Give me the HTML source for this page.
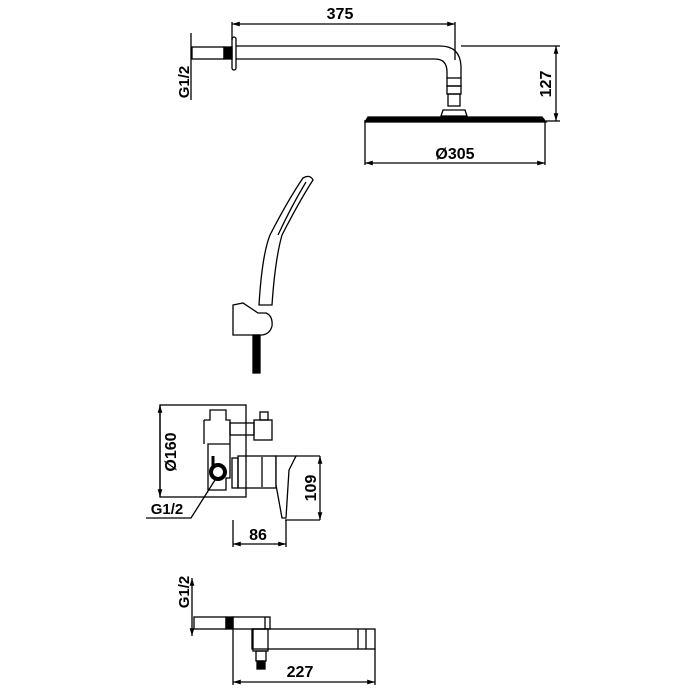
<!DOCTYPE html>
<html><head><style>body{margin:0;background:#fff}svg{display:block}</style></head><body>
<svg width="700" height="700" viewBox="0 0 700 700" xmlns="http://www.w3.org/2000/svg" font-family="Liberation Sans, sans-serif" font-weight="bold" fill="none" stroke="#000" stroke-width="1.3">
<defs><marker id="a" viewBox="0 0 10 10" refX="10" refY="5" markerWidth="6" markerHeight="6" orient="auto-start-reverse"><path d="M0,2L10,5L0,8z" fill="#000" stroke="none"/></marker></defs>
<!-- top: shower arm -->
<line x1="232" y1="24" x2="455" y2="24" marker-start="url(#a)" marker-end="url(#a)"/>
<line x1="232" y1="22" x2="232" y2="40"/><line x1="455" y1="22" x2="455" y2="60"/>
<text x="340" y="19" font-size="16" fill="#000" stroke="none" text-anchor="middle">375</text>
<line x1="191" y1="33" x2="191" y2="100"/>
<text transform="translate(189,82) rotate(-90)" font-size="15" fill="#000" stroke="none" text-anchor="middle">G1/2</text>
<rect x="192" y="47" width="32" height="12"/>
<rect x="224" y="47" width="8" height="12" fill="#000"/>
<rect x="232" y="37" width="4" height="33" rx="2"/>
<path d="M236,46H440Q460,46 461,66V78M236,59H435Q447,59 447,72V78"/>
<rect x="447" y="78" width="14" height="8"/><rect x="447" y="86" width="14" height="8"/><rect x="448" y="94" width="12" height="12"/>
<path d="M443,110h22l2,6h-26z"/>
<path d="M365,122L368,117H542L546,122Z" fill="#000"/>
<line x1="461" y1="46" x2="560" y2="46"/><line x1="546" y1="121" x2="560" y2="121"/>
<line x1="556" y1="46" x2="556" y2="121" marker-start="url(#a)" marker-end="url(#a)"/>
<text transform="translate(551,84) rotate(-90)" font-size="16" fill="#000" stroke="none" text-anchor="middle">127</text>
<line x1="365" y1="120" x2="365" y2="165"/><line x1="545" y1="121" x2="545" y2="165"/>
<line x1="365" y1="163" x2="545" y2="163" marker-start="url(#a)" marker-end="url(#a)"/>
<text x="455" y="159" font-size="16" fill="#000" stroke="none" text-anchor="middle">Ø305</text>
<!-- hand shower -->
<path d="M303,178Q310,174 313,180Q300,200 282,235Q275,260 272,305H259Q262,255 270,235Q288,200 303,178Z"/>
<path d="M306,182Q292,205 278,235"/>
<path d="M233,305L243,303L258,313H266Q273,316 272,326Q270,334 262,335H233Z"/>
<rect x="253" y="335" width="7" height="38" fill="#000"/>
<!-- mixer -->
<rect x="160" y="405" width="86" height="92"/>
<line x1="160" y1="405" x2="160" y2="497" marker-start="url(#a)" marker-end="url(#a)"/>
<text transform="translate(176,452) rotate(-90)" font-size="16" fill="#000" stroke="none" text-anchor="middle">Ø160</text>
<path d="M204,420H210V410H226V420H230V444H208V490H226V478H230V444M204,420V444"/>
<rect x="230" y="423" width="24" height="12"/><rect x="254" y="420" width="18" height="20"/><rect x="260" y="412" width="8" height="8"/>
<rect x="232" y="458" width="6" height="30"/>
<rect x="238" y="456" width="38" height="32"/>
<line x1="262" y1="457" x2="262" y2="487"/>
<path d="M276,456H296L289,470L286,518H282L276,485Z" fill="#fff"/>
<circle cx="218" cy="472" r="7" stroke-width="4"/>
<path d="M213,456V466" stroke-width="3"/>
<path d="M296,456H320M285,520H320"/>
<line x1="320" y1="456" x2="320" y2="520" marker-start="url(#a)" marker-end="url(#a)"/>
<text transform="translate(316,488) rotate(-90)" font-size="16" fill="#000" stroke="none" text-anchor="middle">109</text>
<line x1="233" y1="520" x2="233" y2="547"/><line x1="286" y1="520" x2="286" y2="547"/>
<line x1="233" y1="544" x2="286" y2="544" marker-start="url(#a)" marker-end="url(#a)"/>
<text x="258" y="540" font-size="16" fill="#000" stroke="none" text-anchor="middle">86</text>
<path d="M146,518H191L215,480"/>
<text x="167" y="514" font-size="15" fill="#000" stroke="none" text-anchor="middle">G1/2</text>
<!-- spout -->
<line x1="192" y1="578" x2="192" y2="636" marker-start="url(#a)" marker-end="url(#a)"/>
<text transform="translate(189,592) rotate(-90)" font-size="15" fill="#000" stroke="none" text-anchor="middle">G1/2</text>
<rect x="194" y="617" width="32" height="12"/>
<rect x="226" y="617" width="7" height="12" fill="#000"/>
<rect x="233" y="617" width="37" height="12"/><line x1="265" y1="617" x2="265" y2="629"/>
<rect x="252" y="629" width="123" height="20"/><line x1="358" y1="629" x2="358" y2="649"/><line x1="366" y1="629" x2="366" y2="649"/>
<rect x="253" y="629" width="15" height="22"/>
<rect x="256" y="651" width="10" height="10"/>
<rect x="257" y="661" width="8" height="8" fill="#000"/>
<line x1="233" y1="629" x2="233" y2="685"/><line x1="375" y1="649" x2="375" y2="685"/>
<line x1="233" y1="682" x2="375" y2="682" marker-start="url(#a)" marker-end="url(#a)"/>
<text x="300" y="677" font-size="16" fill="#000" stroke="none" text-anchor="middle">227</text>
</svg>
</body></html>
